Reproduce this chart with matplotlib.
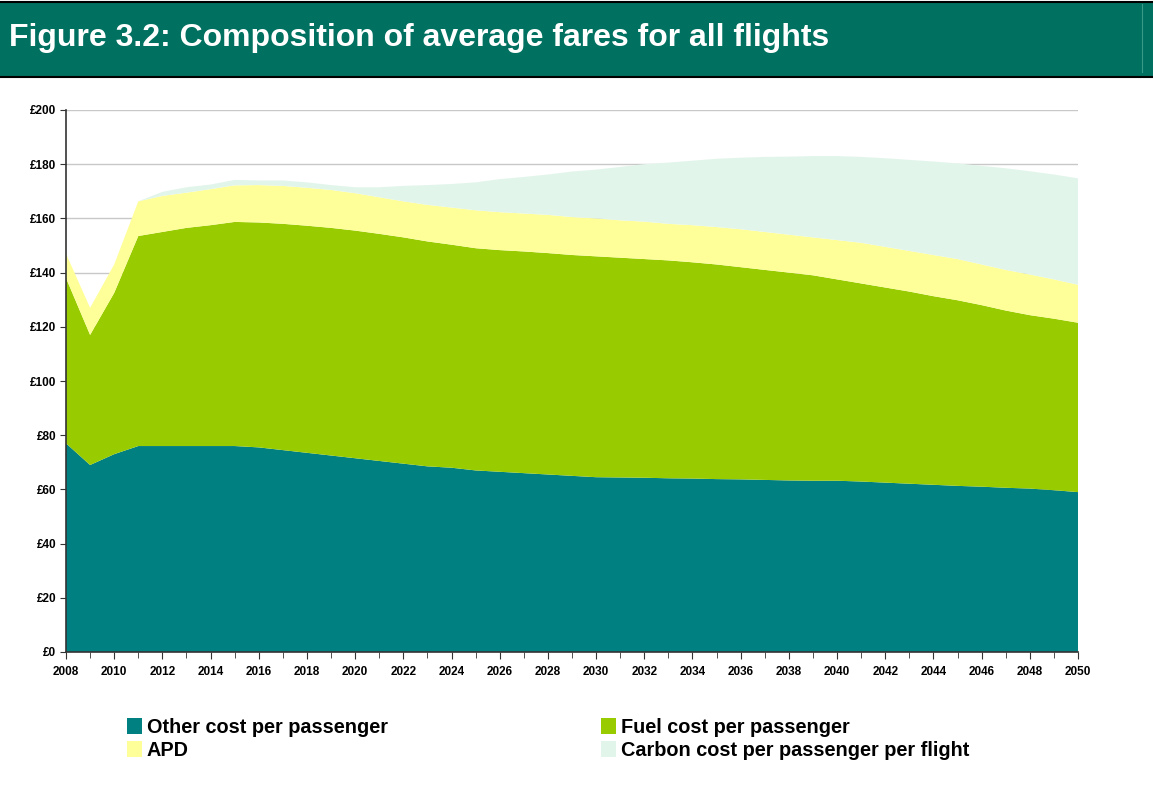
import numpy as np
import matplotlib
matplotlib.use("Agg")
import matplotlib.pyplot as plt
from matplotlib.patches import Rectangle, Patch
from matplotlib.lines import Line2D
from matplotlib.ticker import MultipleLocator, FuncFormatter

plt.rcParams['font.family'] = ['Liberation Sans', 'DejaVu Sans']

years = list(range(2008, 2051))

other = [77, 69, 73, 76, 76, 76, 76, 76, 75.5, 74.5, 73.5, 72.5, 71.5, 70.5,
         69.5, 68.5, 68, 67, 66.5, 66, 65.5, 65, 64.5, 64.4, 64.3, 64.1, 64,
         63.8, 63.7, 63.5, 63.3, 63.2, 63.2, 62.9, 62.5, 62.1, 61.7, 61.3, 61,
         60.6, 60.3, 59.7, 59]
fuel = [61, 48, 59.5, 77.5, 79, 80.5, 81.5, 82.7, 83, 83.5, 83.8, 84, 84, 83.8,
        83.5, 83, 82.3, 82, 81.8, 81.8, 81.7, 81.5, 81.5, 81.1, 80.7, 80.4, 79.8,
        79.2, 78.3, 77.5, 76.7, 75.8, 74.3, 73.1, 72, 70.9, 69.6, 68.5, 67,
        65.4, 64, 63.3, 62.5]
apd = [9, 10, 10.5, 12.8, 13.3, 13, 13.3, 13.5, 13.8, 14, 14, 14, 13.8, 13.5,
       13.3, 13.5, 13.7, 14, 14, 14, 14.1, 14, 14, 13.8, 13.8, 13.5, 13.7,
       13.8, 14, 14, 14, 14, 14.5, 15, 15, 15, 15.2, 15.2, 15, 15, 15, 14.5, 14]
carbon = [0, 0, 0, 0, 1.5, 2, 1.7, 2, 1.7, 2, 2, 1.8, 2.2, 3.7, 5.7, 7.3, 8.7,
          10.3, 12.2, 13.5, 14.9, 16.8, 18, 19.7, 21.2, 22.6, 23.8, 25.2, 26.4,
          27.7, 28.8, 30, 31, 31.7, 32.7, 33.6, 34.5, 35.3, 36.4, 37.5, 38.1,
          38.7, 39.3]

labels = ["Other cost per passenger", "Fuel cost per passenger", "APD",
          "Carbon cost per passenger per flight"]
colors = ["#008080", "#99CC00", "#FFFF99", "#E2F5EB"]
title = "Figure 3.2: Composition of average fares for all flights"

fig = plt.figure(figsize=(11.53, 7.90), dpi=100)

# header band
fig.patches.append(Rectangle((0, 1 - 77 / 790), 1, 75 / 790,
                             transform=fig.transFigure, facecolor="#007060",
                             edgecolor="none", zorder=0))
for yy in (1 - 2 / 790, 1 - 77 / 790):
    fig.lines.append(Line2D([0, 1], [yy, yy], transform=fig.transFigure,
                            color="black", linewidth=1.5))
fig.lines.append(Line2D([1142 / 1153, 1142 / 1153], [1 - 72 / 790, 1 - 4 / 790],
                        transform=fig.transFigure, color="#3A9A88",
                        linewidth=0.8))
fig.text(9 / 1153, 1 - 38 / 790, title, color="white", fontsize=23,
         fontweight="bold", va="center", ha="left")

ax = fig.add_axes([66 / 1153, 1 - 652 / 790, (1078 - 66) / 1153, (652 - 110) / 790])
ax.stackplot(years, other, fuel, apd, carbon, colors=colors, linewidth=0,
             zorder=2)

ax.set_xlim(2008, 2050)
ax.set_ylim(0, 200)
ax.yaxis.set_major_locator(MultipleLocator(20))
ax.yaxis.set_major_formatter(FuncFormatter(lambda v, p: "£%d" % v))
ax.xaxis.set_major_locator(MultipleLocator(2))
ax.xaxis.set_minor_locator(MultipleLocator(1))
ax.grid(axis="y", color="#C8C8C8", linewidth=1, zorder=1)
ax.set_axisbelow(True)
for s in ["top", "right"]:
    ax.spines[s].set_visible(False)
for s in ["left", "bottom"]:
    ax.spines[s].set_color("#333333")
    ax.spines[s].set_linewidth(1.2)
    ax.spines[s].set_zorder(3)
ax.tick_params(axis="both", which="both", direction="out", color="#333333",
               labelsize=8.5)
ax.tick_params(axis="x", which="major", length=5, pad=5)
ax.tick_params(axis="x", which="minor", length=4)
ax.tick_params(axis="y", length=4, pad=3)
for t in ax.get_xticklabels() + ax.get_yticklabels():
    t.set_fontweight("bold")

handles = [Patch(facecolor=c, edgecolor="none") for c in colors]
order = [0, 2, 1, 3]
fig.legend([handles[i] for i in order], [labels[i] for i in order], ncol=2,
           loc="upper left", bbox_to_anchor=(109 / 1153, 1 - 700 / 790),
           frameon=False, prop={"size": 14.3, "weight": "bold"},
           handlelength=0.75, handleheight=0.85, handletextpad=0.25,
           columnspacing=10.75, labelspacing=0.2)

fig.savefig("out.png", dpi=100)
